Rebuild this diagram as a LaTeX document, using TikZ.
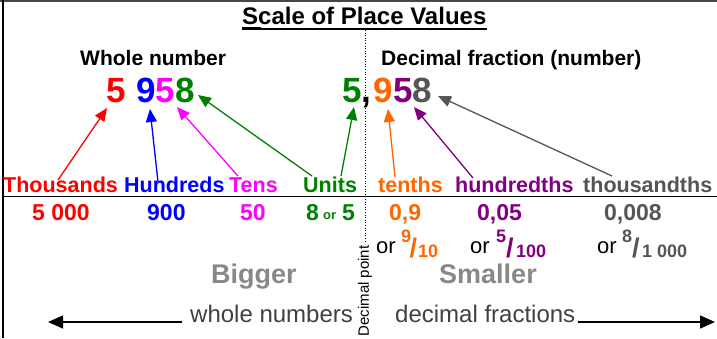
\documentclass[tikz,border=0pt]{standalone}
\usepackage{fontspec}
\setmainfont{Liberation Sans}
\usetikzlibrary{arrows.meta}
\definecolor{cred}{RGB}{255,0,0}
\definecolor{cblue}{RGB}{0,0,255}
\definecolor{cmag}{RGB}{255,0,255}
\definecolor{cgreen}{RGB}{0,128,0}
\definecolor{corange}{RGB}{255,102,0}
\definecolor{cpurple}{RGB}{128,0,128}
\definecolor{cgray}{RGB}{85,85,85}
\definecolor{clight}{RGB}{136,136,136}
\definecolor{ctext}{RGB}{64,64,64}
\definecolor{cframe}{RGB}{70,70,70}
\begin{document}
\begin{tikzpicture}[x=1pt,y=-1pt,
  txt/.style={inner sep=0pt, anchor=base west},
  titletxt/.style={txt, font=\fontsize{24}{24}\selectfont\bfseries},
  headtxt/.style={txt, font=\fontsize{21}{21}\selectfont\bfseries},
  digtxt/.style={txt, font=\fontsize{35}{35}\selectfont\bfseries},
  labtxt/.style={txt, font=\fontsize{21.5}{21.5}\selectfont\bfseries},
  valtxt/.style={txt, font=\fontsize{23}{23}\selectfont\bfseries},
  smalltxt/.style={txt, font=\fontsize{13}{13}\selectfont\bfseries},
  ortxt/.style={txt, font=\fontsize{22}{22}\selectfont},
  suptxt/.style={txt, font=\fontsize{18}{18}\selectfont\bfseries},
  slashtxt/.style={txt, font=\fontsize{27}{27}\selectfont\bfseries},
  bigtxt/.style={txt, font=\fontsize{27}{27}\selectfont\bfseries, text=clight},
  dirtxt/.style={txt, font=\fontsize{24}{24}\selectfont, text=ctext},
  arr/.style={line width=1.3pt, -{Triangle[length=13pt,width=11pt]}},
  barr/.style={line width=1.5pt, black, -{Triangle[length=15pt,width=13pt]}}
]
\useasboundingbox (0,0) rectangle (717,338);
% frame
\draw[cframe, line width=1.5pt] (0,0.8) -- (717,0.8);
\draw[black, line width=2pt] (3,0) -- (3,338);
% title
\node[titletxt] (title) at (242,24) {Scale of Place Values};
\draw[line width=1.5pt] (242,29) -- (487,29);
\draw[line width=3.5pt] (242,28.5) -- (261,28.5);
% dotted decimal line
\draw[line width=1pt, dash pattern=on 1pt off 1.6pt] (365,30) -- (365,241);
\node[inner sep=0pt, rotate=90, font=\fontsize{15}{15}\selectfont] (dp) at (365,291) {Decimal point};
% headings
\node[headtxt] (whole) at (80,65) {Whole number};
\node[headtxt] (decf) at (381,65) {Decimal fraction (number)};
% big digits
\node[digtxt, text=cred] (d1) at (106,102) {5};
\node[digtxt, text=cblue] (d2) at (136,102) {9};
\node[digtxt, text=cmag] (d3) at (155.5,102) {5};
\node[digtxt, text=cgreen] (d4) at (175,102) {8};
\node[digtxt, text=cgreen] (e1) at (342,102) {5};
\node[digtxt, text=black] (comma) at (361,102) {,};
\node[digtxt, text=corange] (e2) at (373.5,102) {9};
\node[digtxt, text=cpurple] (e3) at (393,102) {5};
\node[digtxt, text=cgray] (e4) at (412.5,102) {8};
% labels
\node[labtxt, text=cred] (thou) at (3,192) {Thousands};
\node[labtxt, text=cblue] (hund) at (124,192) {Hundreds};
\node[labtxt, text=cmag] (tens) at (229,192) {Tens};
\node[labtxt, text=cgreen] (units) at (303,192) {Units};
\node[labtxt, text=corange] (tenths) at (378,192) {tenths};
\node[labtxt, text=cpurple] (hundths) at (455,192) {hundredths};
\node[labtxt, text=cgray] (thouths) at (583,192) {thousandths};
% separator line
\draw[black, line width=1.5pt] (3,196.5) -- (717,196.5);
% arrow end points
\coordinate (t1) at (58,180);   \coordinate (h1) at (107,108);
\coordinate (t2) at (158,182);  \coordinate (h2) at (150,109);
\coordinate (t3) at (238,176);  \coordinate (h3) at (177,107);
\coordinate (t4) at (312,176);  \coordinate (h4) at (198,95);
\coordinate (t5) at (341,176);  \coordinate (h5) at (354,107);
\coordinate (t6) at (395,177);  \coordinate (h6) at (388,109);
\coordinate (t7) at (473,178);  \coordinate (h7) at (414,107);
\coordinate (t8) at (612,176);  \coordinate (h8) at (438,96);
\draw[arr, cred] (t1) -- (h1);
\draw[arr, cblue] (t2) -- (h2);
\draw[arr, cmag] (t3) -- (h3);
\draw[arr, cgreen] (t4) -- (h4);
\draw[arr, cgreen] (t5) -- (h5);
\draw[arr, corange] (t6) -- (h6);
\draw[arr, cpurple] (t7) -- (h7);
\draw[arr, cgray] (t8) -- (h8);
% values
\node[valtxt, text=cred] (v1) at (32,220) {5 000};
\node[valtxt, text=cblue] (v2) at (147,220) {900};
\node[valtxt, text=cmag] (v3) at (240,220) {50};
\node[valtxt, text=cgreen] (v4a) at (306,220) {8};
\node[smalltxt, text=cgreen] (v4b) at (323,219) {or};
\node[valtxt, text=cgreen] (v4c) at (342,220) {5};
\node[valtxt, text=corange] (v5) at (389,220) {0,9};
\node[valtxt, text=cpurple] (v6) at (477,220) {0,05};
\node[valtxt, text=cgray] (v7) at (604,220) {0,008};
% fractions
\node[ortxt] (o1) at (376,253) {or};
\node[suptxt, text=corange] (n1) at (401,242) {9};
\node[slashtxt, text=corange] (s1) at (409.5,257) {/};
\node[suptxt, text=corange] (m1) at (418,257) {10};
\node[ortxt] (o2) at (470,253) {or};
\node[suptxt, text=cpurple] (n2) at (496,242) {5};
\node[slashtxt, text=cpurple] (s2) at (506,257) {/};
\node[suptxt, text=cpurple] (m2) at (516,257) {100};
\node[ortxt] (o3) at (597,253) {or};
\node[suptxt, text=cgray] (n3) at (622,242) {8};
\node[slashtxt, text=cgray] (s3) at (632,257) {/};
\node[suptxt, text=cgray] (m3) at (642,257) {1 000};
% bigger / smaller
\node[bigtxt] (big) at (211,283) {Bigger};
\node[bigtxt] (small) at (439,283) {Smaller};
\node[dirtxt] (wn) at (190,322) {whole numbers};
\node[dirtxt] (df) at (395,322) {decimal fractions};
\coordinate (la) at (182,322); \coordinate (lb) at (48,322);
\coordinate (ra) at (578,322); \coordinate (rb) at (715,322);
\draw[barr] (la) -- (lb);
\draw[barr] (ra) -- (rb);
\end{tikzpicture}
\end{document}
